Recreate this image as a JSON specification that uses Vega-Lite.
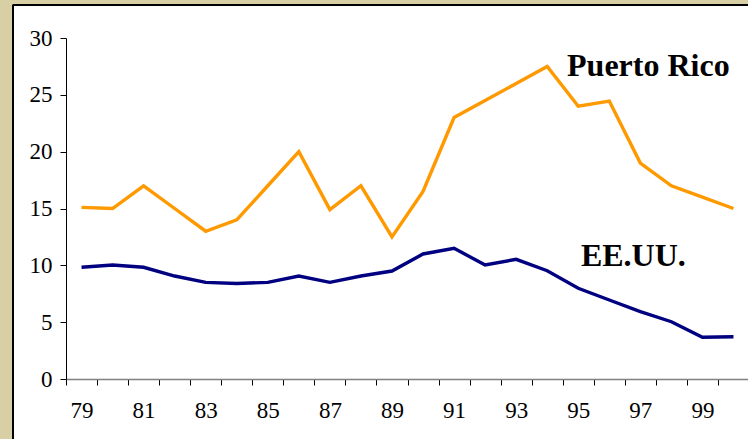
{
  "$schema": "https://vega.github.io/schema/vega-lite/v6.json",
  "width": 735,
  "height": 434,
  "autosize": {"type": "none"},
  "padding": {"left": 13, "top": 5, "right": 0, "bottom": 0},
  "background": "#D8D0A4",
  "config": {
    "view": {"stroke": null, "fill": "#FFFFFF"},
    "font": "Liberation Serif"
  },
  "datasets": {
    "series": [
      {"year": "79", "series": "Puerto Rico", "value": 15.1},
      {"year": "80", "series": "Puerto Rico", "value": 15.0},
      {"year": "81", "series": "Puerto Rico", "value": 17.0},
      {"year": "82", "series": "Puerto Rico", "value": 15.0},
      {"year": "83", "series": "Puerto Rico", "value": 13.0},
      {"year": "84", "series": "Puerto Rico", "value": 14.0},
      {"year": "85", "series": "Puerto Rico", "value": 17.0},
      {"year": "86", "series": "Puerto Rico", "value": 20.0},
      {"year": "87", "series": "Puerto Rico", "value": 14.9},
      {"year": "88", "series": "Puerto Rico", "value": 17.0},
      {"year": "89", "series": "Puerto Rico", "value": 12.5},
      {"year": "90", "series": "Puerto Rico", "value": 16.5},
      {"year": "91", "series": "Puerto Rico", "value": 23.0},
      {"year": "92", "series": "Puerto Rico", "value": 24.5},
      {"year": "93", "series": "Puerto Rico", "value": 26.0},
      {"year": "94", "series": "Puerto Rico", "value": 27.5},
      {"year": "95", "series": "Puerto Rico", "value": 24.0},
      {"year": "96", "series": "Puerto Rico", "value": 24.45},
      {"year": "97", "series": "Puerto Rico", "value": 19.0},
      {"year": "98", "series": "Puerto Rico", "value": 17.0},
      {"year": "99", "series": "Puerto Rico", "value": 16.0},
      {"year": "00", "series": "Puerto Rico", "value": 15.0},
      {"year": "79", "series": "EE.UU.", "value": 9.83},
      {"year": "80", "series": "EE.UU.", "value": 10.03},
      {"year": "81", "series": "EE.UU.", "value": 9.83},
      {"year": "82", "series": "EE.UU.", "value": 9.06},
      {"year": "83", "series": "EE.UU.", "value": 8.5},
      {"year": "84", "series": "EE.UU.", "value": 8.4},
      {"year": "85", "series": "EE.UU.", "value": 8.5},
      {"year": "86", "series": "EE.UU.", "value": 9.06},
      {"year": "87", "series": "EE.UU.", "value": 8.5},
      {"year": "88", "series": "EE.UU.", "value": 9.06},
      {"year": "89", "series": "EE.UU.", "value": 9.5},
      {"year": "90", "series": "EE.UU.", "value": 11.0},
      {"year": "91", "series": "EE.UU.", "value": 11.5},
      {"year": "92", "series": "EE.UU.", "value": 10.03},
      {"year": "93", "series": "EE.UU.", "value": 10.53},
      {"year": "94", "series": "EE.UU.", "value": 9.53},
      {"year": "95", "series": "EE.UU.", "value": 7.98},
      {"year": "96", "series": "EE.UU.", "value": 6.95},
      {"year": "97", "series": "EE.UU.", "value": 5.92},
      {"year": "98", "series": "EE.UU.", "value": 5.04},
      {"year": "99", "series": "EE.UU.", "value": 3.67},
      {"year": "00", "series": "EE.UU.", "value": 3.72}
    ]
  },
  "resolve": {"scale": {"x": "independent"}, "axis": {"x": "independent"}},
  "layer": [
    {
      "layer": [
        {
          "data": {"name": "series"},
          "mark": {"type": "line", "strokeWidth": 3.4, "strokeJoin": "miter"},
          "encoding": {
            "x": {
              "field": "year",
              "type": "nominal",
              "sort": null,
              "bandPosition": 0.5,
              "scale": {
                "type": "band",
                "domain": ["79","80","81","82","83","84","85","86","87","88","89","90","91","92","93","94","95","96","97","98","99","00"],
                "range": [53, 736],
                "paddingInner": 0,
                "paddingOuter": 0
              },
              "axis": {
                "title": null,
                "offset": -60,
                "tickBand": "extent",
                "labelAngle": 0,
                "labelFont": "Liberation Serif",
                "labelFontSize": 23,
                "labelColor": "#000000",
                "labelPadding": 14,
                "labelExpr": "toNumber(datum.value) % 2 == 1 ? datum.label : ''",
                "domainColor": "#808080",
                "domainWidth": 1.5,
                "tickColor": "#000000",
                "tickSize": 6,
                "tickWidth": 1,
                "grid": false
              }
            },
            "y": {
              "field": "value",
              "type": "quantitative",
              "scale": {"domain": [0, 30], "range": [374, 33], "nice": false, "zero": true},
              "axis": {
                "title": null,
                "offset": -53,
                "values": [0, 5, 10, 15, 20, 25, 30],
                "labelFont": "Liberation Serif",
                "labelFontSize": 23,
                "labelColor": "#000000",
                "labelPadding": 8,
                "domainColor": "#000000",
                "domainWidth": 1,
                "tickColor": "#000000",
                "tickSize": 6,
                "tickWidth": 1,
                "grid": false
              }
            },
            "color": {
              "field": "series",
              "type": "nominal",
              "scale": {"domain": ["Puerto Rico", "EE.UU."], "range": ["#FF9900", "#000080"]},
              "legend": null
            }
          }
        },
        {
          "data": {"values": [{"year": "97", "value": 26.66, "label": "Puerto Rico"}]},
          "mark": {"type": "text", "font": "Liberation Serif", "fontWeight": "bold", "fontSize": 32, "align": "center", "baseline": "alphabetic", "dx": 8, "color": "#000000"},
          "encoding": {
            "x": {"field": "year", "type": "nominal", "bandPosition": 0.5},
            "y": {"field": "value", "type": "quantitative"},
            "text": {"field": "label"}
          }
        },
        {
          "data": {"values": [{"year": "97", "value": 9.94, "label": "EE.UU."}]},
          "mark": {"type": "text", "font": "Liberation Serif", "fontWeight": "bold", "fontSize": 32, "align": "center", "baseline": "alphabetic", "dx": -7, "color": "#000000"},
          "encoding": {
            "x": {"field": "year", "type": "nominal", "bandPosition": 0.5},
            "y": {"field": "value", "type": "quantitative"},
            "text": {"field": "label"}
          }
        }
      ]
    },
    {
      "layer": [
        {
          "data": {"values": [{}]},
          "mark": {"type": "rule", "color": "#000000", "strokeWidth": 2},
          "encoding": {
            "x": {"datum": 0, "type": "quantitative", "scale": {"domain": [0, 1], "nice": false, "zero": false}, "axis": null},
            "y": {"datum": 32.95, "type": "quantitative", "scale": {"domain": [0, 30], "range": [374, 33], "nice": false, "zero": true}},
            "y2": {"datum": -5.4}
          }
        },
        {
          "data": {"values": [{}]},
          "mark": {"type": "rule", "color": "#000000", "strokeWidth": 2},
          "encoding": {
            "x": {"datum": 0, "type": "quantitative", "scale": {"domain": [0, 1], "nice": false, "zero": false}, "axis": null},
            "x2": {"datum": 1},
            "y": {"datum": 32.9, "type": "quantitative", "scale": {"domain": [0, 30], "range": [374, 33], "nice": false, "zero": true}}
          }
        }
      ]
    }
  ]
}
